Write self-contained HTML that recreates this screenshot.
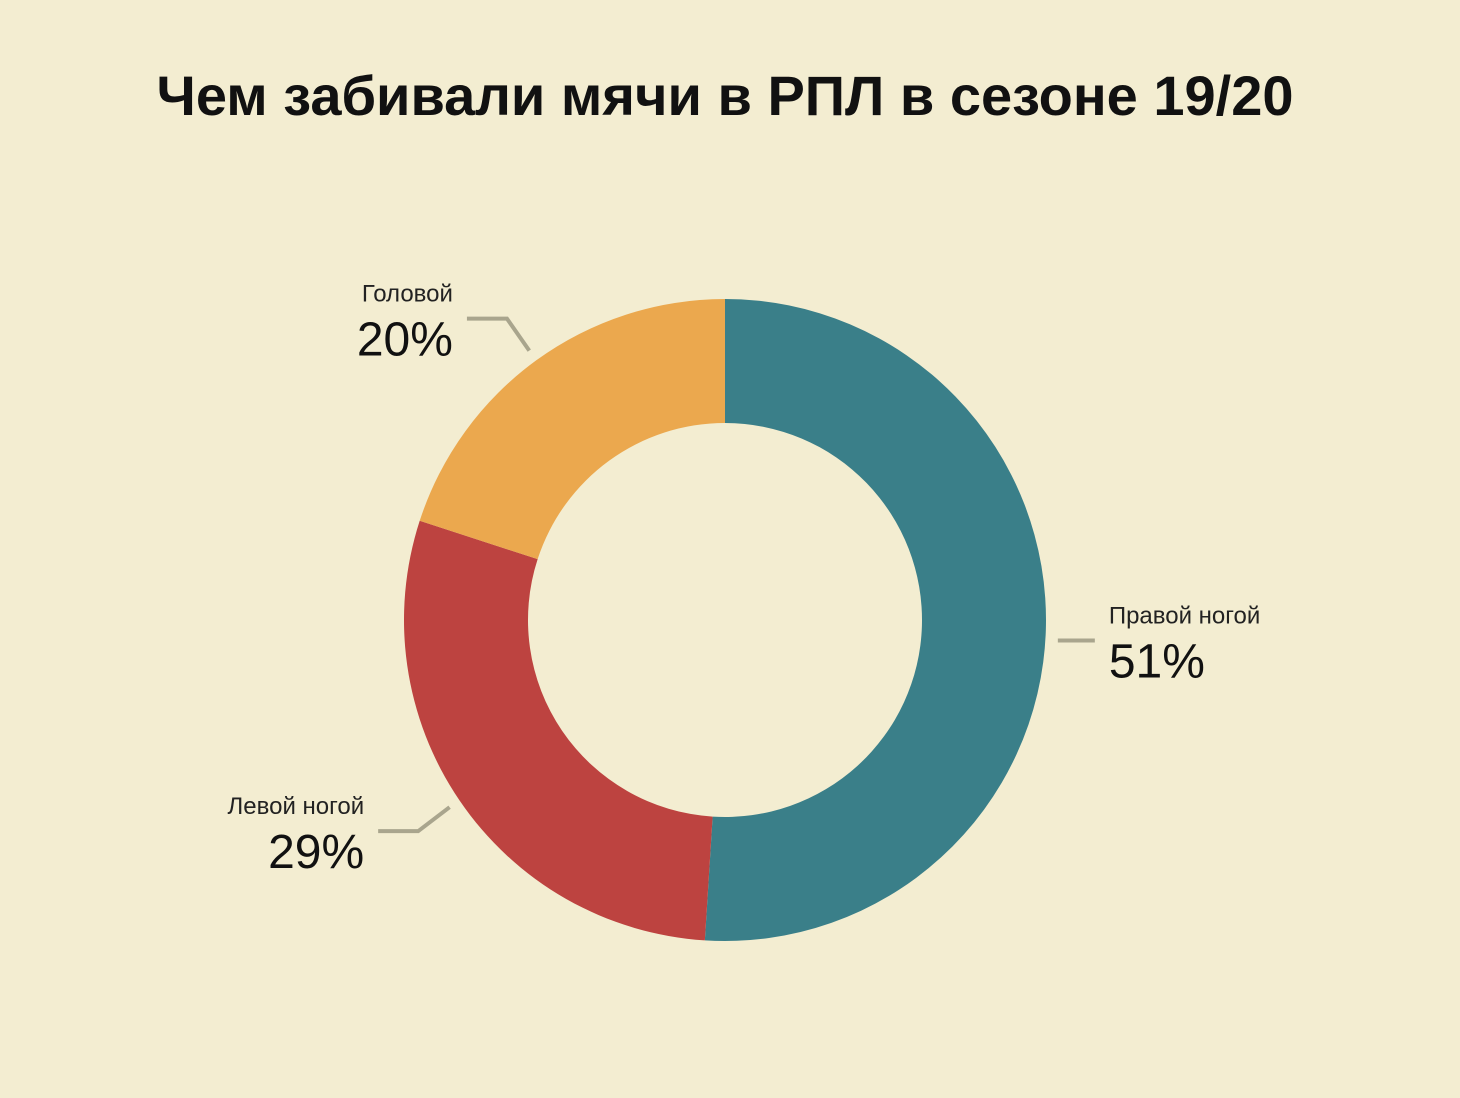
<!DOCTYPE html>
<html><head><meta charset="utf-8"><style>
html,body{margin:0;padding:0;background:#f3edd1;}
body{width:1460px;height:1093px;overflow:hidden;font-family:"Liberation Sans","DejaVu Sans",sans-serif;}
</style></head><body>
<svg id="chart" width="1460" height="1093" viewBox="0 0 1460 1093" xmlns="http://www.w3.org/2000/svg">
<rect width="1460" height="1093" fill="#f3edd1"/>
<text x="725" y="115" text-anchor="middle" font-size="56" font-weight="bold" fill="#111" font-family="Liberation Sans, DejaVu Sans, sans-serif">Чем забивали мячи в РПЛ в сезоне 19/20</text>
<g id="slices"></g>
<g id="labels"></g>
</svg>
<script>
const categories = ["Правой ногой", "Левой ногой", "Головой"];
const values = [51, 29, 20];
const valueLabels = ["51%", "29%", "20%"];
const colors = ["#3a7f89", "#bd4340", "#eba84e"];
const NS = "http://www.w3.org/2000/svg";
const cx = 725, cy = 620, R = 321, r = 197;
const total = values.reduce((a,b)=>a+b,0);
function pt(a, rad){ return [cx + rad*Math.sin(a), cy - rad*Math.cos(a)]; }
const g = document.getElementById('slices');
const lg = document.getElementById('labels');
let acc = 0;
values.forEach((v,i)=>{
  const a0 = acc/total*2*Math.PI; acc += v; const a1 = acc/total*2*Math.PI;
  const large = (a1-a0) > Math.PI ? 1 : 0;
  const p0=pt(a0,R), p1=pt(a1,R), q1=pt(a1,r), q0=pt(a0,r);
  const path = document.createElementNS(NS,'path');
  path.setAttribute('d',`M${p0[0]},${p0[1]} A${R},${R} 0 ${large} 1 ${p1[0]},${p1[1]} L${q1[0]},${q1[1]} A${r},${r} 0 ${large} 0 ${q0[0]},${q0[1]} Z`);
  path.setAttribute('fill',colors[i]);
  
  
  g.appendChild(path);
  // label
  const mid = (a0+a1)/2;
  const e = pt(mid, R+12);
  const right = Math.sin(mid) >= 0;
  const s = right ? 1 : -1;
  const elbow = [e[0] + s*Math.max(0, 0), e[1]];
  let pts;
  if (Math.abs(Math.cos(mid)) < 0.2) { pts = [[e[0], e[1]+10],[e[0]+s*37, e[1]+10]]; }
  else { const k=pt(mid,R+50); pts = [e, [k[0], e[1] + (Math.cos(mid)>0?-32:24)], [k[0]+s*(-0)-s*(-0)+s*(-42)*(-1)*0 + (s>0?40:-40), e[1] + (Math.cos(mid)>0?-32:24)]]; }
  const line = document.createElementNS(NS,'polyline');
  line.setAttribute('points', pts.map(p=>p.join(',')).join(' '));
  line.setAttribute('fill','none'); line.setAttribute('stroke','#a9a58d'); line.setAttribute('stroke-width','4');
  
  
  lg.appendChild(line);
  const end = pts[pts.length-1];
  const tx = right ? end[0]+14 : end[0]-14;
  const anchor = right ? 'start' : 'end';
  const t1 = document.createElementNS(NS,'text');
  t1.setAttribute('x',tx); t1.setAttribute('y',end[1]-17);
  t1.setAttribute('text-anchor',anchor); t1.setAttribute('font-size','24'); t1.setAttribute('fill','#222');
  t1.textContent = categories[i];
  
  
  lg.appendChild(t1);
  const t2 = document.createElementNS(NS,'text');
  t2.setAttribute('x',tx); t2.setAttribute('y',end[1]+37);
  t2.setAttribute('text-anchor',anchor); t2.setAttribute('font-size','48'); t2.setAttribute('fill','#111');
  t2.textContent = valueLabels[i];
  
  
  lg.appendChild(t2);
});
</script>
</body></html>
